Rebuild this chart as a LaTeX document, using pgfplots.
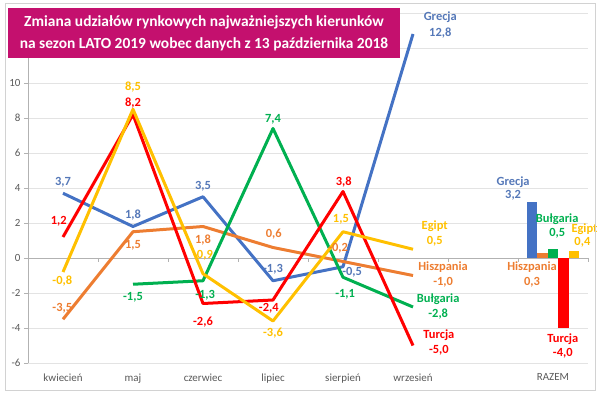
\documentclass[border=0pt]{standalone}
\usepackage{fontspec}
\setmainfont{Carlito}
\usepackage{pgfplots}
\pgfplotsset{compat=1.18}
\usetikzlibrary{calc}
\definecolor{cB}{HTML}{4472C4}
\definecolor{cO}{HTML}{ED7D31}
\definecolor{cG}{HTML}{00B050}
\definecolor{cR}{HTML}{FF0000}
\definecolor{cY}{HTML}{FFC000}
\definecolor{lB}{HTML}{5578B8}
\definecolor{tit}{HTML}{C4106E}
\definecolor{tickc}{HTML}{595959}
\newcommand{\nacute}{\char"0144\relax}
\newcommand{\lstroke}{\char"0142\relax}
\newcommand{\oacute}{\char"00F3\relax}
\newcommand{\zdot}{\char"017C\relax}
\newcommand{\zacute}{\char"017A\relax}
\newcommand{\lab}[4]{\node[text=#3,font=\fontsize{12.5}{13}\selectfont\bfseries,inner sep=0pt] at (axis cs:#1,#2) {#4};}
\begin{document}
\begin{tikzpicture}
\begin{axis}[
  name=ax,
  scale only axis,
  width=560bp, height=350bp,
  xmin=-0.5, xmax=7.5, ymin=-6, ymax=14,
  clip=false,
  axis lines*=left,
  x axis line style={draw=none},
  y axis line style={draw=gray!60},
  xtick={0,1,2,3,4,5,7},
  xticklabels={kwiecie\nacute,maj,czerwiec,lipiec,sierpie\nacute,wrzesie\nacute,RAZEM},
  xtick style={draw=none},
  ytick={-6,-4,...,14},
  ytick style={draw=gray!60},
  tick align=outside,
  major tick length=4bp,
  ymajorgrids,
  grid style={gray!22, line width=0.6pt},
  /pgf/number format/assume math mode=true,
  tick label style={font=\fontsize{11}{12}\selectfont, text=tickc},
  xticklabel style={yshift=-3bp},
  line join=round,
]
% zero line with category separators
\draw[gray!60, line width=0.6pt] (axis cs:-0.5,0) -- (axis cs:7.5,0);
\pgfplotsinvokeforeach{0.5,1.5,2.5,3.5,4.5,5.5,6.5,7.5}{\draw[gray!60, line width=0.6pt] (axis cs:#1,0) -- ([yshift=-4bp]axis cs:#1,0);}

\addplot[cB, line width=3bp] coordinates {(0,3.7) (1,1.8) (2,3.5) (3,-1.3) (4,-0.5) (5,12.8)};
\addplot[cO, line width=3bp] coordinates {(0,-3.5) (1,1.5) (2,1.8) (3,0.6) (4,-0.2) (5,-1.0)};
\addplot[cG, line width=3bp] coordinates {(1,-1.5) (2,-1.3) (3,7.4) (4,-1.1) (5,-2.8)};
\addplot[cR, line width=3bp] coordinates {(0,1.2) (1,8.2) (2,-2.6) (3,-2.4) (4,3.8) (5,-5.0)};
\addplot[cY, line width=3bp] coordinates {(0,-0.8) (1,8.5) (2,-0.9) (3,-3.6) (4,1.5) (5,0.5)};

\addplot[ybar, bar width=10.5bp, bar shift=-21bp, fill=cB, draw=none] coordinates {(7,3.2)};
\addplot[ybar, bar width=10.5bp, bar shift=-10.5bp, fill=cO, draw=none] coordinates {(7,0.3)};
\addplot[ybar, bar width=10.5bp, bar shift=0bp, fill=cG, draw=none] coordinates {(7,0.5)};
\addplot[ybar, bar width=10.5bp, bar shift=10.5bp, fill=cR, draw=none] coordinates {(7,-4.0)};
\addplot[ybar, bar width=10.5bp, bar shift=21bp, fill=cY, draw=none] coordinates {(7,0.4)};

% Grecja labels
\lab{0}{4.34}{lB}{3,7}
\lab{1}{2.46}{lB}{1,8}
\lab{2}{4.11}{lB}{3,5}
\lab{3}{-0.63}{lB}{-1,3}
\lab{4.13}{-0.8}{lB}{-0,5}
\lab{5.39}{13.77}{lB}{Grecja}
\lab{5.39}{12.86}{lB}{12,8}
% Hiszpania labels
\lab{-0.01}{-2.86}{cO}{-3,5}
\lab{1}{0.74}{cO}{1,5}
\lab{2}{1.03}{cO}{1,8}
\lab{3.01}{1.37}{cO}{0,6}
\lab{3.93}{0.57}{cO}{-0,2}
\lab{5.43}{-0.51}{cO}{Hiszpania}
\lab{5.43}{-1.37}{cO}{-1,0}
% Bulgaria labels
\lab{1}{-2.23}{cG}{-1,5}
\lab{2.03}{-2.11}{cG}{-1,3}
\lab{3}{7.94}{cG}{7,4}
\lab{4.03}{-2.06}{cG}{-1,1}
\lab{5.36}{-2.34}{cG}{Bu\lstroke garia}
\lab{5.36}{-3.2}{cG}{-2,8}
% Turcja labels
\lab{-0.06}{2.11}{cR}{1,2}
\lab{1}{8.86}{cR}{8,2}
\lab{2}{-3.66}{cR}{-2,6}
\lab{2.94}{-2.86}{cR}{-2,4}
\lab{4.01}{4.34}{cR}{3,8}
\lab{5.37}{-4.4}{cR}{Turcja}
\lab{5.37}{-5.26}{cR}{-5,0}
% Egipt labels
\lab{-0.01}{-1.31}{cY}{-0,8}
\lab{1}{9.77}{cY}{8,5}
\lab{2.0}{0.17}{cY}{-0,9}
\lab{3}{-4.29}{cY}{-3,6}
\lab{3.97}{2.23}{cY}{1,5}
\lab{5.31}{1.83}{cY}{Egipt}
\lab{5.31}{0.97}{cY}{0,5}
% RAZEM labels
\lab{6.43}{4.34}{lB}{Grecja}
\lab{6.43}{3.6}{lB}{3,2}
\lab{6.7}{-0.51}{cO}{Hiszpania}
\lab{6.7}{-1.37}{cO}{0,3}
\lab{7.06}{2.2}{cG}{Bu\lstroke garia}
\lab{7.06}{1.43}{cG}{0,5}
\lab{7.45}{1.66}{cY}{Egipt}
\lab{7.42}{0.91}{cY}{0,4}
\lab{7.14}{-4.63}{cR}{Turcja}
\lab{7.14}{-5.43}{cR}{-4,0}
\end{axis}
% frame and title
\path[use as bounding box] ($(ax.south west)+(-28bp,-31bp)$) rectangle ($(ax.south west)+(572bp,363bp)$);
\draw[gray!35, line width=1pt] ($(ax.south west)+(-23bp,-27bp)$) rectangle ($(ax.south west)+(567bp,359bp)$);
\fill[tit] ($(ax.south west)+(-20bp,305bp)$) rectangle ($(ax.south west)+(372bp,355bp)$);
\node[text=white, font=\fontsize{15.5}{22}\selectfont\bfseries, align=center] at ($(ax.south west)+(176bp,330bp)$) {Zmiana udzia\lstroke\oacute w rynkowych najwa\zdot niejszych kierunk\oacute w\\na sezon LATO 2019 wobec danych z 13 pa\zacute dziernika 2018};
\end{tikzpicture}
\end{document}
